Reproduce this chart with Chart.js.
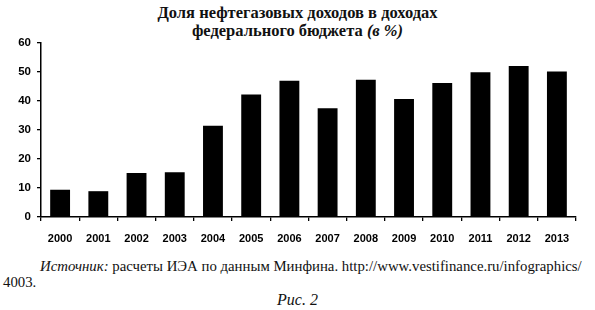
<!DOCTYPE html>
<html>
<head>
<meta charset="utf-8">
<script src="https://cdn.jsdelivr.net/npm/chart.js@4"></script>
<style>
  body { margin: 0; background: #fff; }
  #wrap { position: relative; width: 595px; height: 310px; overflow: hidden; }
  #chartBox { position: absolute; left: 0; top: 0; width: 595px; height: 250px; }
  .title { position: absolute; left: 0; width: 595px; text-align: center; line-height: 18px;
    font-family: "Liberation Serif", "DejaVu Serif", serif; font-weight: bold; font-size: 16.5px; color: #111; }
  .src { position: absolute; font-family: "Liberation Serif", serif; font-size: 14.8px; line-height: 17px; color: #111; white-space: nowrap; }
</style>
</head>
<body>
<div id="wrap">
  <div class="title" style="top:4px">Доля нефтегазовых доходов в доходах</div>
  <div class="title" style="top:22px">федерального бюджета <i>(в %)</i></div>
  <div id="chartBox"><canvas id="shareChart" width="595" height="250"></canvas></div>
  <div class="src" style="left:40px; top:258px"><i>Источник:</i> расчеты ИЭА по данным Минфина. http://www.vestifinance.ru/infographics/</div>
  <div class="src" style="left:3px; top:274px">4003.</div>
  <div class="src" style="left:0; width:595px; text-align:center; top:291px; font-size:16px"><i>Рис. 2</i></div>
</div>
<script>
// Data
const years = ['2000', '2001', '2002', '2003', '2004', '2005', '2006', '2007', '2008', '2009', '2010', '2011', '2012', '2013'];
const oilGasShare = [9.4, 8.9, 15.2, 15.4, 31.5, 42.2, 47.0, 37.5, 47.3, 40.7, 46.2, 49.9, 52.1, 50.2];
const yTicks = [0, 10, 20, 30, 40, 50, 60];

const ctx = document.getElementById('shareChart').getContext('2d');
new Chart(ctx, {
  type: 'bar',
  data: {
    labels: years,
    datasets: [{
      data: oilGasShare,
      backgroundColor: '#000',
      barPercentage: 0.52,
      categoryPercentage: 1.0
    }]
  },
  options: {
    responsive: false,
    animation: false,
    layout: { padding: { top: 43, right: 19, left: 0, bottom: 0 } },
    plugins: { legend: { display: false }, title: { display: false }, tooltip: { enabled: false } },
    scales: {
      x: {
        grid: { drawOnChartArea: false, drawTicks: true, tickLength: 4, color: '#000', lineWidth: 1.3 },
        border: { color: '#000', width: 1.5 },
        ticks: { color: '#000', padding: 11, maxRotation: 0,
          font: { family: '"Liberation Sans Narrow", "Liberation Sans", Arial', weight: 'bold', size: 11 } },
        afterFit: s => { s.height = 33; }
      },
      y: {
        min: 0, max: 60,
        afterBuildTicks: s => { s.ticks = yTicks.map(v => ({ value: v })); },
        grid: { drawOnChartArea: false, drawTicks: true, tickLength: 4, color: '#000', lineWidth: 1.3 },
        border: { color: '#000', width: 1.5 },
        ticks: { color: '#000', padding: 6,
          font: { family: '"Liberation Sans", Arial', weight: 'bold', size: 11.5 } },
        afterFit: s => { s.width = 41; }
      }
    }
  }
});
</script>
</body>
</html>
